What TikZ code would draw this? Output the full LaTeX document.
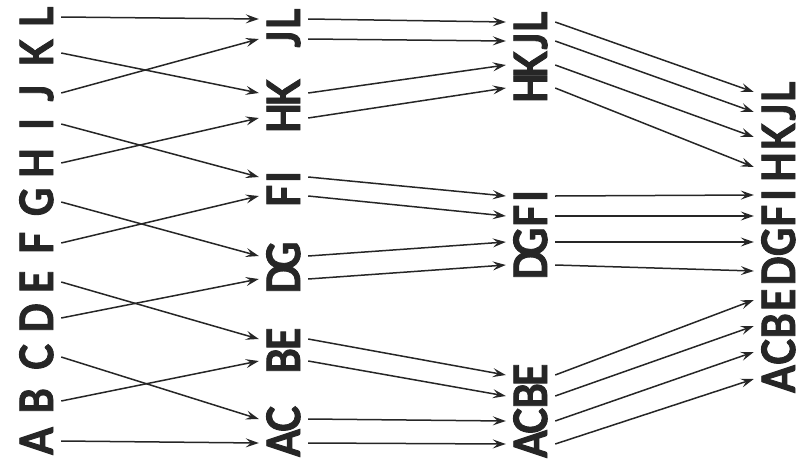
\documentclass[tikz,border=0pt]{standalone}
\usepackage{fontspec}
\usepackage{xcolor}
\usepackage{tikz}
\usetikzlibrary{arrows.meta}
\newfontfamily\mezclafont{Lato}[FakeStretch=0.85,FakeBold=2]
\definecolor{Tinta}{RGB}{38,38,38}

\begin{document}
\begin{tikzpicture}[x=1pt,y=-1pt,>={Stealth[length=13pt,width=9pt,inset=5pt]},
  letra/.style={rotate=90,font=\mezclafont\bfseries\fontsize{46}{46}\selectfont,
    text=Tinta,text height=33pt,text depth=0pt,inner xsep=0pt,inner ysep=8pt},
  flecha/.style={->,line width=1.5pt,Tinta}]
  \useasboundingbox (0,0) rectangle (806,458);
  % columnas de letras
  \foreach \l/\y in {A/441,B/401,C/357,D/318,E/282,F/243,G/202,H/163,I/124,J/93,K/53,L/17}
    \node[letra] (c1\l) at (36.5,\y) {\l};
  \foreach \l/\y in {L/19,J/39,K/93,H/118,I/177,F/196,G/256,D/279,E/339,B/361,C/419,A/443}
    \node[letra] (c2\l) at (283.5,\y) {\l};
  \foreach \l/\y in {L/22,J/41,K/65,H/88,I/196,F/216,G/242,D/265,E/375,B/396,C/421,A/444}
    \node[letra] (c3\l) at (530.5,\y) {\l};
  \foreach \l/\y in {L/92,J/112,K/137,H/167,I/195,F/216,G/242,D/271,E/300,B/326,C/352,A/379}
    \node[letra] (c4\l) at (778.5,\y) {\l};
  % flechas entre columnas
  \foreach \l in {A,B,C,D,E,F,G,H,I,J,K,L} {
    \draw[flecha] (c1\l.south) -- (c2\l.north);
    \draw[flecha] (c2\l.south) -- (c3\l.north);
    \draw[flecha] (c3\l.south) -- (c4\l.north);
  }
\end{tikzpicture}
\end{document}
